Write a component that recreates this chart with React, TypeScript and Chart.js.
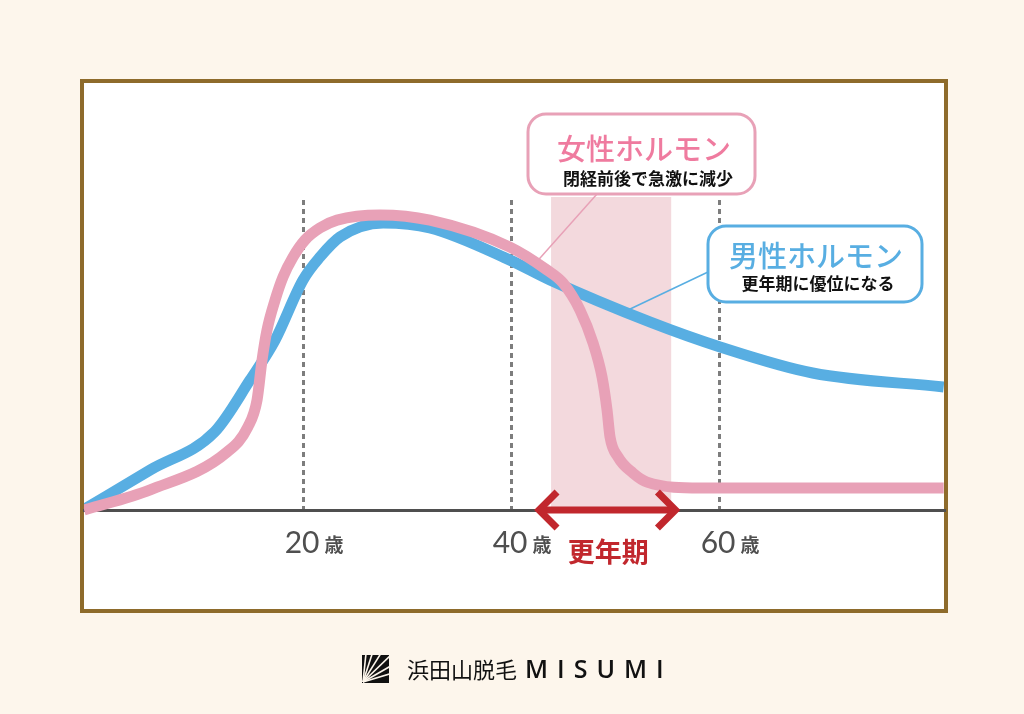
import React, { useEffect, useRef } from 'react';
import { Chart, registerables } from 'chart.js';

Chart.register(...registerables);

// ---- data (age in years, relative hormone level 0-100) ----
const femaleAges = [-1.06, 5.3, 12.7, 14.7, 15.58, 16.06, 16.54, 17.31, 18.08, 19.04, 20.19, 21.63, 23.27, 27.4, 32.2, 39.9, 43.46, 45.0, 46.63, 47.88, 48.75, 49.23, 49.52, 50.29, 51.73, 53.08, 58.2, 60, 81.6];
const femaleValues = [0, 6.5, 18.7, 26.8, 35.5, 48.4, 58.1, 67.7, 75.2, 81.6, 87.1, 91.0, 93.5, 95.2, 93.5, 84.8, 77.4, 73.2, 64.5, 53.9, 42.9, 32.3, 23.5, 17.1, 11.9, 9.0, 7.1, 7.1, 7.1];
const maleAges = [-0.9, 5.3, 11.5, 14.9, 17.31, 20, 21.63, 23.56, 27.7, 32.2, 39.9, 43.75, 53.4, 60.1, 69, 81.6];
const maleValues = [0.5, 12.9, 25.2, 41.9, 54.8, 74.2, 81.6, 88.1, 92.6, 91, 80.6, 74.2, 60.6, 52.6, 44.2, 39.7];

const xMin = -1.06;
const xMax = 81.63;
const tickAges = [20, 40, 60];
const tickUnit = '歳';
const menopauseRange = [43.85, 55.4];
const arrowRange = [42.5, 56.0];
const menopauseLabel = '更年期';
const femaleTitle = '女性ホルモン';
const femaleNote = '閉経前後で急激に減少';
const femalePointer = [42.6, 80.6];
const maleTitle = '男性ホルモン';
const maleNote = '更年期に優位になる';
const malePointer = [51.25, 64.5];
const brandName = '浜田山脱毛';
const brandMark = 'MISUMI';

const PINK = '#e8a1b7';
const PINK_TEXT = '#ef7b9f';
const BLUE = '#58aee2';
const BAND = '#f3d9dd';
const RED = '#c1272d';
const FRAME = '#8e6b2b';
const BG = '#fdf6ec';
const JP = '"Noto Sans CJK JP", "Noto Sans", sans-serif';

const W = 1024;
const H = 714;

export default function App() {
  const ref = useRef<HTMLCanvasElement | null>(null);

  useEffect(() => {
    const canvas = ref.current;
    if (!canvas) return;

    const deco = {
      id: 'deco',
      beforeDraw(chart: any) {
        const ctx = chart.ctx;
        ctx.save();
        ctx.fillStyle = BG;
        ctx.fillRect(0, 0, W, H);
        ctx.fillStyle = '#ffffff';
        ctx.fillRect(82, 81, 864, 530);
        ctx.strokeStyle = FRAME;
        ctx.lineWidth = 4;
        ctx.strokeRect(82, 81, 864, 530);
        ctx.restore();
      },
      beforeDatasetsDraw(chart: any) {
        const ctx = chart.ctx;
        const xs = chart.scales.x;
        const area = chart.chartArea;
        const x1 = xs.getPixelForValue(menopauseRange[0]);
        const x2 = xs.getPixelForValue(menopauseRange[1]);
        ctx.save();
        ctx.fillStyle = BAND;
        ctx.fillRect(x1, area.top - 3, x2 - x1, area.bottom - area.top + 1.5);
        ctx.restore();
      },
      afterDatasetsDraw(chart: any) {
        const ctx = chart.ctx;
        const xs = chart.scales.x;
        const ys = chart.scales.y;
        ctx.save();

        // tick labels
        const base = chart.chartArea.bottom;
        tickAges.forEach((age) => {
          const px = xs.getPixelForValue(age);
          ctx.font = '30px Lato, "Noto Sans", sans-serif';
          ctx.fillStyle = '#4f4f4f';
          ctx.textAlign = 'center';
          ctx.textBaseline = 'alphabetic';
          const label = String(age);
          const w = ctx.measureText(label).width;
          ctx.fillText(label, px - 1, base + 43);
          ctx.font = 'bold 19px ' + JP;
          ctx.textAlign = 'left';
          ctx.fillText(tickUnit, px - 1 + w / 2 + 5, base + 42);
        });

        // arrow
        const a1 = xs.getPixelForValue(arrowRange[0]);
        const a2 = xs.getPixelForValue(arrowRange[1]);
        ctx.strokeStyle = RED;
        ctx.lineWidth = 7;
        ctx.lineCap = 'butt';
        ctx.lineJoin = 'miter';
        ctx.beginPath();
        ctx.moveTo(a1 + 4, base);
        ctx.lineTo(a2 - 4, base);
        ctx.stroke();
        ctx.beginPath();
        ctx.moveTo(a1 + 20, base - 18);
        ctx.lineTo(a1 + 2, base);
        ctx.lineTo(a1 + 20, base + 18);
        ctx.stroke();
        ctx.beginPath();
        ctx.moveTo(a2 - 20, base - 18);
        ctx.lineTo(a2 - 2, base);
        ctx.lineTo(a2 - 20, base + 18);
        ctx.stroke();
        ctx.fillStyle = RED;
        ctx.font = 'bold 27px ' + JP;
        ctx.textAlign = 'center';
        ctx.textBaseline = 'middle';
        ctx.fillText(menopauseLabel, (a1 + a2) / 2 + 1, base + 42);

        // callouts
        const callout = (
          bx: number, by: number, bw: number, bh: number, color: string, titleColor: string,
          title: string, note: string, tx: number, ty: number, nx: number, ny: number,
          lx: number, ly: number, px: number, py: number,
        ) => {
          ctx.strokeStyle = color;
          ctx.lineWidth = 1.5;
          ctx.beginPath();
          ctx.moveTo(lx, ly);
          ctx.lineTo(px, py);
          ctx.stroke();
          ctx.fillStyle = '#ffffff';
          ctx.lineWidth = 3;
          ctx.beginPath();
          ctx.roundRect(bx, by, bw, bh, 18);
          ctx.fill();
          ctx.stroke();
          ctx.textAlign = 'center';
          ctx.textBaseline = 'middle';
          ctx.fillStyle = titleColor;
          ctx.font = '500 29px ' + JP;
          ctx.fillText(title, tx, ty);
          ctx.fillStyle = '#111111';
          ctx.font = 'bold 17px ' + JP;
          ctx.fillText(note, nx, ny);
        };
        callout(528, 114, 227, 80, PINK, PINK_TEXT, femaleTitle, femaleNote, 644, 149, 648, 179, 597, 194,
          xs.getPixelForValue(femalePointer[0]), ys.getPixelForValue(femalePointer[1]));
        callout(708, 226, 214, 76, BLUE, BLUE, maleTitle, maleNote, 816, 256, 818, 284, 708, 272,
          xs.getPixelForValue(malePointer[0]), ys.getPixelForValue(malePointer[1]));

        // footer logo
        ctx.fillStyle = '#111111';
        ctx.fillRect(362, 655, 27, 28);
        ctx.save();
        ctx.beginPath();
        ctx.rect(362, 655, 27, 28);
        ctx.clip();
        ctx.strokeStyle = BG;
        ctx.lineWidth = 1.6;
        [84, 72, 58, 44, 30, 17].forEach((deg) => {
          const r = (deg * Math.PI) / 180;
          ctx.beginPath();
          ctx.moveTo(363, 682);
          ctx.lineTo(363 + Math.cos(r) * 50, 682 - Math.sin(r) * 50);
          ctx.stroke();
        });
        ctx.restore();
        ctx.fillStyle = '#111111';
        ctx.textAlign = 'left';
        ctx.textBaseline = 'middle';
        ctx.font = '22px ' + JP;
        ctx.fillText(brandName, 407, 670);
        ctx.font = '600 25px "Open Sans", sans-serif';
        (ctx as any).letterSpacing = '9px';
        ctx.fillText(brandMark, 525, 671);
        (ctx as any).letterSpacing = '0px';

        ctx.restore();
      },
    };

    const chart = new Chart(canvas, {
      type: 'line',
      data: {
        datasets: [
          {
            label: femaleTitle,
            data: femaleAges.map((x, i) => ({ x, y: femaleValues[i] })),
            borderColor: PINK,
            borderWidth: 11,
            pointRadius: 0,
            fill: false,
            cubicInterpolationMode: 'monotone',
            borderJoinStyle: 'round',
            clip: { left: 0, right: 0, top: 40, bottom: 40 },
          } as any,
          {
            label: maleTitle,
            data: maleAges.map((x, i) => ({ x, y: maleValues[i] })),
            borderColor: BLUE,
            borderWidth: 11,
            pointRadius: 0,
            fill: false,
            cubicInterpolationMode: 'monotone',
            borderJoinStyle: 'round',
            clip: { left: 0, right: 0, top: 40, bottom: 40 },
          } as any,
        ],
      },
      options: {
        animation: false,
        responsive: false,
        layout: { padding: { left: 84, right: 80, top: 200, bottom: 204 } },
        plugins: { legend: { display: false }, tooltip: { enabled: false } },
        scales: {
          x: {
            type: 'linear',
            min: xMin,
            max: xMax,
            afterBuildTicks: (axis: any) => {
              axis.ticks = tickAges.map((v) => ({ value: v }));
            },
            ticks: { display: false },
            grid: { color: '#7d7d7d', lineWidth: 3, drawTicks: false },
            border: { display: true, color: '#4f4f4f', width: 3, dash: [5, 4] },
          },
          y: { display: false, min: 0, max: 100 },
        },
      } as any,
      plugins: [deco],
    });

    return () => chart.destroy();
  }, []);

  return (
    <div style={{ position: 'absolute', left: 0, top: 0, width: W, height: H, background: BG }}>
      <canvas ref={ref} width={W} height={H} style={{ display: 'block', width: W, height: H }} />
    </div>
  );
}
